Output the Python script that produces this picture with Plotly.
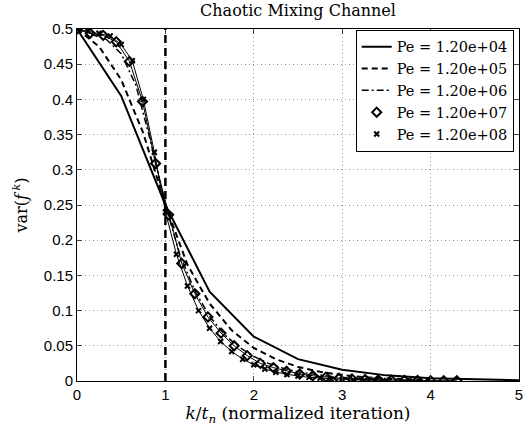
import plotly.graph_objects as go

title = "Chaotic Mixing Channel"
labels = ["Pe = 1.20e+04", "Pe = 1.20e+05", "Pe = 1.20e+06", "Pe = 1.20e+07", "Pe = 1.20e+08"]

# Pe = 1.20e+04 (solid)
x1 = [0, 0.5, 1.0, 1.5, 2.0, 2.5, 3.0, 3.5, 4.0, 4.5, 5.0]
y1 = [0.5, 0.405, 0.25, 0.127, 0.063, 0.031, 0.016, 0.008, 0.004, 0.002, 0.001]

# Pe = 1.20e+05 (dashed)
x2 = [0, 0.25, 0.5, 0.75, 1.0, 1.25, 1.5, 1.75, 2.0, 2.25, 2.5, 2.75, 3.0, 3.25, 3.5, 3.75, 4.0]
y2 = [0.5, 0.475, 0.428, 0.352, 0.25, 0.165, 0.11, 0.072, 0.047, 0.031, 0.02, 0.013,
      0.0085, 0.0055, 0.0036, 0.0024, 0.0016]

# Pe = 1.20e+06 (dash-dot)
x3 = [0, 0.167, 0.333, 0.5, 0.667, 0.833, 1.0, 1.167, 1.333, 1.5, 1.667, 1.833, 2.0,
      2.167, 2.333, 2.5, 2.667, 2.833, 3.0, 3.167, 3.333, 3.5, 3.667, 3.833, 4.0]
y3 = [0.5, 0.493, 0.485, 0.465, 0.42, 0.34, 0.25, 0.178, 0.128, 0.092, 0.066, 0.048, 0.035,
      0.025, 0.018, 0.013, 0.0095, 0.007, 0.005, 0.0036, 0.0026, 0.0019, 0.0014, 0.001, 0.0007]

# Pe = 1.20e+07 (diamonds)
x4 = [0, 0.148, 0.296, 0.444, 0.593, 0.741, 0.889, 1.037, 1.185, 1.333, 1.481, 1.630,
      1.778, 1.926, 2.074, 2.222, 2.370, 2.519, 2.667, 2.815, 2.963, 3.111, 3.259,
      3.407, 3.556, 3.704, 3.852, 4.0, 4.148, 4.296]
y4 = [0.5, 0.494, 0.491, 0.482, 0.454, 0.397, 0.309, 0.236, 0.167, 0.124, 0.091, 0.068,
      0.050, 0.036, 0.025, 0.019, 0.014, 0.010, 0.0075, 0.0055, 0.004, 0.003, 0.0022,
      0.0016, 0.0012, 0.0009, 0.0007, 0.0005, 0.0004, 0.0003]

# Pe = 1.20e+08 (x markers)
x5 = [0, 0.125, 0.25, 0.375, 0.5, 0.625, 0.75, 0.875, 1.0, 1.125, 1.25, 1.375, 1.5,
      1.625, 1.75, 1.875, 2.0, 2.125, 2.25, 2.375, 2.5, 2.625, 2.75, 2.875, 3.0,
      3.125, 3.25, 3.375, 3.5]
y5 = [0.5, 0.497, 0.494, 0.49, 0.478, 0.455, 0.40, 0.325, 0.24, 0.18, 0.135, 0.10, 0.075,
      0.056, 0.042, 0.031, 0.023, 0.017, 0.0125, 0.0093, 0.007, 0.0052, 0.0039, 0.0029,
      0.0022, 0.0016, 0.0012, 0.0009, 0.0007]

x_ticks = [0, 1, 2, 3, 4, 5]
y_ticks = [0, 0.05, 0.1, 0.15, 0.2, 0.25, 0.3, 0.35, 0.4, 0.45, 0.5]
y_tick_text = ["0", "0.05", "0.1", "0.15", "0.2", "0.25", "0.3", "0.35", "0.4", "0.45", "0.5"]

serif = "DejaVu Serif"
sans = "Liberation Sans"

fig = go.Figure()
fig.add_trace(go.Scatter(x=x1, y=y1, mode="lines", name=labels[0],
                         line=dict(color="black", width=2)))
fig.add_trace(go.Scatter(x=x2, y=y2, mode="lines", name=labels[1],
                         line=dict(color="black", width=2, dash="6px,4px")))
fig.add_trace(go.Scatter(x=x3, y=y3, mode="lines", name=labels[2],
                         line=dict(color="black", width=1.5, dash="7px,3px,2px,3px")))
# connecting lines for marker series
fig.add_trace(go.Scatter(x=x4, y=y4, mode="lines", showlegend=False,
                         line=dict(color="black", width=1)))
fig.add_trace(go.Scatter(x=x5, y=y5, mode="lines", showlegend=False,
                         line=dict(color="black", width=1)))
fig.add_trace(go.Scatter(x=x4, y=y4, mode="markers", name=labels[3],
                         marker=dict(symbol="diamond-open", size=7, color="black",
                                     line=dict(width=2, color="black"))))
fig.add_trace(go.Scatter(x=x5, y=y5, mode="markers", name=labels[4],
                         marker=dict(symbol="x-thin-open", size=5, color="black",
                                     line=dict(width=2, color="black"))))

fig.add_shape(type="line", x0=1, x1=1, y0=0, y1=0.5, xref="x", yref="y",
              line=dict(color="black", width=2.5, dash="8px,5px"))

fig.update_layout(
    width=532, height=431,
    margin=dict(l=77, r=9, t=29, b=50),
    paper_bgcolor="white", plot_bgcolor="white",
    title=dict(text=title, x=0.5, xanchor="center", xref="paper", y=0.99, yanchor="top",
               font=dict(family=serif, size=16, color="black")),
    showlegend=True,
    legend=dict(x=0.988, y=0.998, xanchor="right", yanchor="top",
                bgcolor="white", bordercolor="black", borderwidth=1,
                font=dict(family=serif, size=14.5, color="black"),
                tracegroupgap=0, itemsizing="trace", itemwidth=30),
)
grid = dict(showgrid=True, gridcolor="#999999", griddash="1px,3px", gridwidth=1)
fig.update_xaxes(range=[0, 5], tickvals=x_ticks, ticks="inside", ticklen=5,
                 showline=True, linecolor="black", linewidth=1, mirror="allticks",
                 zeroline=False, tickfont=dict(family=sans, size=15, color="black"),
                 title=dict(text="<i>k</i>/<i>t</i><sub><i>n</i></sub> (normalized iteration)",
                            font=dict(family=serif, size=17, color="black"), standoff=0),
                 **grid)
fig.update_yaxes(range=[0, 0.5], tickvals=y_ticks, ticktext=y_tick_text, ticks="inside", ticklen=5,
                 showline=True, linecolor="black", linewidth=1, mirror="allticks",
                 zeroline=False, tickfont=dict(family=sans, size=15, color="black"),
                 title=dict(text="var(<i>f</i><sup> <i>k</i></sup>)",
                            font=dict(family=serif, size=16, color="black"), standoff=12),
                 **grid)

fig.write_html("out.html")
